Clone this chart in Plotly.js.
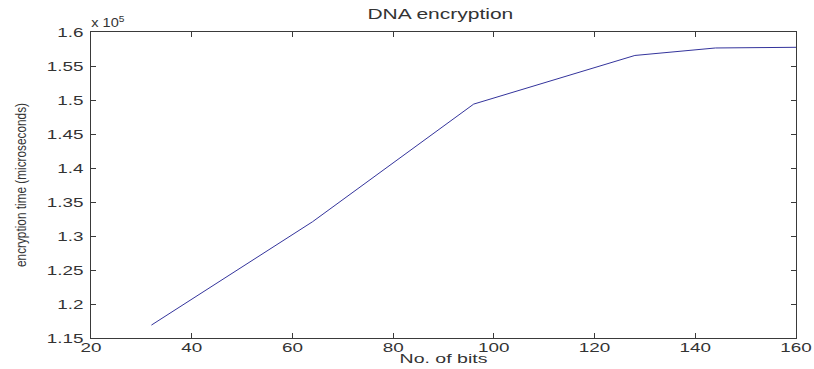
<!DOCTYPE html>
<html>
<head>
<meta charset="utf-8">
<script src="https://cdn.plot.ly/plotly-3.0.1.min.js"></script>
<style>
  html, body { margin: 0; padding: 0; background: #ffffff; }
  #chart { width: 814px; height: 369px; }
</style>
</head>
<body>
<div id="chart"></div>
<script>
// Message length in bits
const bits = [32, 64, 96, 128, 144, 160];
// Encryption time in microseconds
const encTime = [116900, 132100, 149400, 156550, 157650, 157750];

// Y ticks are shown as mantissas with a shared "x 10^5" exponent
const yTickVals = [115000, 120000, 125000, 130000, 135000, 140000, 145000, 150000, 155000, 160000];
const yTickText = ['1.15', '1.2', '1.25', '1.3', '1.35', '1.4', '1.45', '1.5', '1.55', '1.6'];
const xTickVals = [20, 40, 60, 80, 100, 120, 140, 160];

const axisColor = '#3a3a3a';
const textColor = '#333333';

const trace = {
  x: bits,
  y: encTime,
  type: 'scatter',
  mode: 'lines',
  line: { color: '#34349c', width: 1 },
  hoverinfo: 'x+y'
};

const layout = {
  width: 814,
  height: 369,
  margin: { l: 91, r: 18, t: 32, b: 31 },
  paper_bgcolor: '#ffffff',
  plot_bgcolor: '#ffffff',
  showlegend: false,
  font: { family: 'Liberation Sans, Arial, sans-serif', size: 13, color: textColor },
  title: {
    text: 'DNA encryption',
    font: { size: 14, color: textColor },
    x: 0.541, xanchor: 'center',
    y: 0.962, yanchor: 'middle'
  },
  xaxis: {
    range: [20, 160],
    tickmode: 'array',
    tickvals: xTickVals,
    ticks: 'inside',
    ticklen: 5,
    tickcolor: axisColor,
    showline: true,
    linecolor: axisColor,
    linewidth: 1,
    mirror: 'ticks',
    showgrid: false,
    zeroline: false,
    ticklabelstandoff: -3,
    tickfont: { size: 13, color: textColor },
    title: { text: 'No. of bits', font: { size: 13, color: textColor }, standoff: 0 }
  },
  yaxis: {
    range: [115000, 160000],
    tickmode: 'array',
    tickvals: yTickVals,
    ticktext: yTickText,
    ticks: 'inside',
    ticklen: 5,
    tickcolor: axisColor,
    showline: true,
    linecolor: axisColor,
    linewidth: 1,
    mirror: 'ticks',
    showgrid: false,
    zeroline: false,
    ticklabelstandoff: 4,
    tickfont: { size: 13, color: textColor },
    title: { text: 'encryption time (microseconds)', font: { size: 15, color: textColor }, standoff: 27 }
  },
  annotations: [{
    text: 'x 10<sup>5</sup>',
    xref: 'paper', yref: 'paper',
    x: 0.0, y: 1.0,
    xanchor: 'left', yanchor: 'bottom',
    showarrow: false,
    font: { size: 13, color: textColor }
  }]
};

// Widen the horizontal lettering and condense the vertical axis title,
// giving the stretched look of the original figure export.
function reshapeText(gd) {
  const widen = (selector, factor) => {
    gd.querySelectorAll(selector).forEach(t => {
      const w = t.getComputedTextLength();
      if (w > 0) {
        t.setAttribute('textLength', (w * factor).toFixed(1));
        t.setAttribute('lengthAdjust', 'spacingAndGlyphs');
      }
    });
  };
  widen('.xtick text', 1.45);
  widen('.ytick text', 1.45);
  widen('text.gtitle', 1.5);
  widen('text.xtitle', 1.5);
  widen('.annotation-text-g text', 1.12);
  gd.querySelectorAll('text.ytitle').forEach(t => {
    t.setAttribute('textLength', '164');
    t.setAttribute('lengthAdjust', 'spacingAndGlyphs');
  });
}

Plotly.newPlot('chart', [trace], layout, { displayModeBar: false, staticPlot: true })
  .then(reshapeText);
</script>
</body>
</html>
